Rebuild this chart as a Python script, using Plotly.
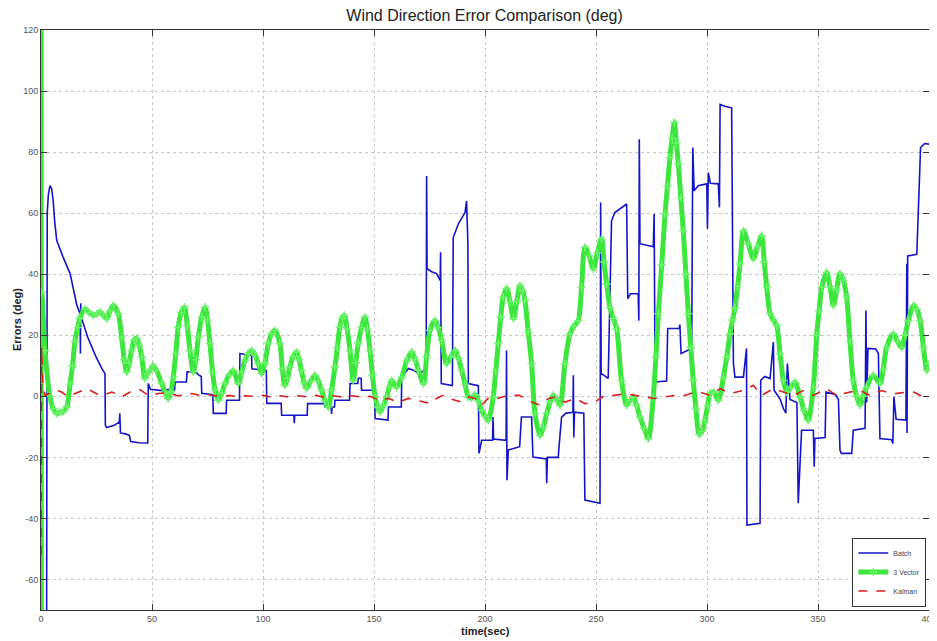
import plotly.graph_objects as go

# ---------------- data ----------------
x_ticks = [0, 50, 100, 150, 200, 250, 300, 350, 400]
y_ticks = [-60, -40, -20, 0, 20, 40, 60, 80, 100, 120]

# Batch estimate error: (time sec, error deg)
batch = [
    (2.5, -90), (2.8, 60), (3.3, 66), (4.05, 69), (4.8, 68), (5.5, 64), (6.2, 57), (7.1, 51),
    (10, 45.5), (13.1, 40.2), (16.1, 30), (17.6, 27), (17.75, 14), (17.9, 30.5), (18.1, 26),
    (21, 19.4), (24.8, 12.9), (27.5, 9), (28.8, 7.5), (29, -9.5), (29.6, -10.2), (33, -9.5),
    (35.3, -8.4), (35.5, -5.6), (35.8, -12), (38, -12.3), (39.8, -12.8), (40.4, -14.8),
    (44, -15.2), (48.1, -15.3), (48.3, 4.2), (49.3, 2.3), (53, 2), (55.5, 1.8), (56, 2.2),
    (60.2, 2.2), (60.4, 4.7), (65.5, 4.7), (65.8, 8), (69.5, 8), (71, 7), (72.2, 6.5),
    (72.4, 1), (77.4, 0.5), (77.6, -5.6), (83.4, -5.6), (83.6, -1.3), (89.4, -1.3),
    (89.6, 14), (94.5, 13.5), (94.8, 15.5), (95.0, 9), (101.5, 8.5), (101.7, -2.3),
    (108.2, -2.3), (108.4, -6.2), (113.9, -6.2), (114.1, -8.8), (114.3, -6.2), (119.9, -6.2),
    (120.1, -2.4), (127.7, -2.4), (127.9, -3.5), (130.7, -3.5), (130.9, -5.8), (131.1, -3.5),
    (132.2, -3.5), (132.4, -1.3), (139, -1.3), (139.2, 4.2), (142.7, 4.2), (142.9, 5.9),
    (144.2, 5.9), (144.4, 2), (150.3, 2), (150.5, -7.3), (156.3, -7.8), (156.5, -3.5),
    (162.3, -3.5), (162.5, 6.3), (165.5, 9.1), (168, 8.5), (170, 7.5), (173, 8.5),
    (173.5, 6.5), (173.7, 72.2), (173.9, 41.8), (176, 40.8), (178.2, 40.2), (179.8, 38),
    (180.0, 47.2), (180.3, 4.2), (185.3, 3.5), (185.7, 52), (188, 56.5), (191, 60.2),
    (191.7, 64), (192.3, 50), (192.5, 4.2), (197, 3.5), (197.3, -18.7), (198.5, -14.4),
    (203.4, -14.4), (203.6, -6.8), (203.9, -14), (209.5, -14.4), (209.7, 15), (209.9, -27.5),
    (210.5, -17.6), (215.6, -16.5), (216.4, -6.8), (221, -6.8), (221.6, -19.9), (227.6, -20.5),
    (227.8, -28.5), (228.1, -20), (233, -20), (233.4, -16), (234.5, -6.8), (236.5, -5.5),
    (239.6, -5.2), (239.8, 6.9), (240.0, -13.5), (240.3, -5.2), (244.5, -5.5), (245, -34),
    (251.8, -35), (252.1, 63.5), (252.3, 7.5), (255.5, 5.9), (257, 57.5), (258.5, 60.2),
    (263.8, 63), (264.3, 32), (265.5, 33.6), (269, 33.6), (269.3, 24.8), (269.5, 84.2),
    (269.8, 50), (275.8, 49), (276.2, 59.7), (276.6, 4.7), (281.8, 5), (282.3, 22.2),
    (287.5, 22.2), (287.8, 23.5), (288.3, 14), (293.1, 15.7), (293.6, 81.5), (294.2, 67.3),
    (296, 69), (299.9, 69.6), (300.2, 54.9), (300.6, 73.3), (301.5, 69.8), (305.1, 69.6),
    (305.6, 61.9), (305.9, 95.6), (308, 95), (311.1, 94.5), (311.9, 10.7), (312.6, 6.3),
    (316.4, 6.3), (317.8, 15.7), (318.0, -42.2), (323.9, -41.6), (324.2, 5.2), (326, 6.5),
    (328.4, 5.8), (329.9, 17.8), (330.2, 2), (333, -1), (334.4, -4), (335.5, -5.5),
    (336.2, 10.7), (337.4, -1), (340.5, -2), (341.1, -35), (342.6, -11.1), (347.9, -11.1),
    (348.3, -23.1), (348.6, -13.8), (353.2, -13.5), (353.6, 1.4), (358, 0.5), (359.2, -1),
    (359.9, -17.6), (360.5, -18.7), (365.2, -18.7), (365.9, -11.1), (371.2, -10.5),
    (371.6, 28.1), (371.9, -2), (372.5, 15.7), (376, 15.5), (377.2, 14), (377.9, -13.8),
    (383.2, -14.2), (383.7, -15.5), (384.2, -0.2), (385.2, -7.5), (389.6, -7.8), (390, 43.4),
    (390.1, -12), (390.4, 46), (394.5, 46.5), (395.8, 70), (396.2, 81.5), (398, 82.8),
    (400, 82.6),
]

# 3 Vector estimate error: (time sec, error deg)
vector3 = [
    (0, 150), (0.15, -90), (0.3, 34), (1.8, 15), (4.0, 0), (5.5, -4), (7.1, -5.6), (8.5, -5.2),
    (10, -5), (11.6, -3.5), (13.1, 4), (14.2, 10), (15.3, 18), (16.5, 22.5), (17.5, 25.5),
    (19.8, 28.6), (21.6, 27.5), (23.6, 26.5), (25.1, 27), (26.6, 27.6), (28.1, 26.5),
    (29.6, 25.5), (31.1, 28), (32.6, 29.8), (34.8, 27.1), (36.3, 19.4), (37.5, 12), (38.6, 8),
    (39.7, 11), (40.8, 15), (42, 18.5), (43.1, 19), (44.3, 16.5), (45.4, 12.9), (46.8, 5.9),
    (48, 7.5), (49.1, 8.5), (50.5, 10), (52, 8.5), (54.4, 4.2), (56, 1), (57.3, -0.7),
    (58.5, 1.5), (59.6, 6.3), (60.7, 14), (61.8, 22.6), (63.2, 27.5), (64.6, 29.2),
    (65.9, 23), (67.1, 15), (68.6, 8), (69.7, 12), (70.9, 19.4), (72.4, 26), (73.9, 29.2),
    (75, 25), (76.1, 17.3), (77.3, 8), (78.4, 2), (79.9, -1.3), (81.4, 1), (82.9, 4.2),
    (84.8, 7), (86.6, 8.5), (88.9, 4.2), (90.4, 8), (91.9, 11.8), (93.4, 14), (94.9, 15),
    (96.4, 13.5), (97.9, 10.7), (99.4, 7.5), (100.9, 11), (102.4, 17.3), (103.9, 20.5),
    (105.4, 21.6), (107.6, 17.3), (108.7, 9), (109.8, 3.6), (111, 6), (112.1, 9.6),
    (113.6, 13), (115.1, 14.5), (116.2, 12), (117.3, 8.5), (118.5, 4.5), (119.6, 2.6),
    (121.5, 5), (123.4, 6.9), (124.9, 5), (126.4, 2), (127.9, -1.5), (129.4, -3.5),
    (130.9, 2), (132.4, 9.6), (133.5, 16), (134.6, 22.6), (135.6, 25.5), (136.6, 26.5),
    (137.9, 22), (139.2, 15), (140.6, 5.2), (141.8, 11), (142.9, 17.3), (144.4, 22.5),
    (145.9, 25.9), (147, 22), (148.2, 15), (149.3, 7), (150.5, -0.2), (151.6, -3.5),
    (152.7, -5.1), (154.2, -3), (155.7, -0.2), (156.9, 3), (158, 5.2), (160.2, 3),
    (162.5, 6.3), (164.8, 11.8), (167, 14.5), (168.5, 12), (170, 8.5), (172.3, 4.2),
    (173.7, 12.9), (175.2, 21.6), (177.5, 24.8), (179, 22.5), (180.5, 18.3), (182.7, 10.7),
    (184.6, 13), (186.5, 15), (188, 12.5), (189.5, 8.5), (191, 4), (192.5, -0.2), (194, -0.5),
    (195.5, 0.5), (197, -1.5), (198.5, -4.6), (200, -6.5), (201.5, -7.8), (203.7, -0.2),
    (204.8, 8), (206, 17.3), (207.1, 26), (208.2, 32.5), (209.8, 35.3), (211.3, 31),
    (212.8, 25.5), (214.3, 31), (215.8, 36.3), (217, 34.5), (218, 31.4), (219.5, 21),
    (221, 10.7), (222.5, -5.6), (224.8, -12.8), (226.3, -10), (227.8, -5.6), (229.3, -2),
    (230.8, 0.3), (232.3, -1), (233.8, -2.9), (236, 10.7), (238.3, 20.5), (240, 23),
    (242, 24.8), (243.5, 35.7), (245, 48.8), (246.9, 46), (248.8, 41.8), (250.6, 47),
    (252.5, 51.6), (253.6, 44), (254.8, 36.8), (256.3, 29.1), (257.8, 25.5), (259.3, 22.2),
    (261.5, 5.2), (263.8, -2.9), (265.3, -1.5), (266.8, -0.3), (268.3, -3), (269.8, -6.8),
    (271.7, -10.5), (273.6, -13.8), (275.8, -0.2), (277, 13), (278.1, 27.1), (279.6, 43),
    (281.1, 59.7), (282.2, 69), (283.3, 78.2), (284.3, 84.5), (285.3, 89.7), (286.2, 83),
    (287.1, 76.1), (288.2, 65), (289.3, 54.2), (290.5, 40), (291.6, 27.1), (292.7, 16),
    (293.8, 5.2), (295, -4), (296.5, -12.5), (297.8, -11.5), (299.1, -7.8), (300.3, -3),
    (301.4, 0.9), (303, 1.4), (305.1, -1.3), (307.4, 6.3), (308.9, 13), (310.4, 20.5),
    (311.5, 25), (312.6, 29), (313.8, 36), (314.9, 43.4), (316.4, 54.2), (318.6, 50),
    (320.9, 45.1), (322.8, 49), (324.6, 52.6), (325.8, 44), (326.9, 35.7), (328.4, 27.1),
    (329.9, 25), (331.4, 23.2), (332.9, 14), (334.4, 5.2), (335.9, 1.4), (337.8, 3),
    (339.6, 4.6), (341.9, -0.2), (343.7, -4.5), (345.6, -7.8), (347.9, 3), (349.4, 20),
    (350.5, 28), (351.7, 35.7), (353.9, 40.6), (355.4, 36), (356.9, 29.8), (358.4, 35),
    (359.9, 40.2), (361.4, 38), (362.9, 32.5), (364.4, 18), (365.9, 5.2), (367.4, 0),
    (368.9, -2.9), (370.4, 0), (371.9, 3), (374.9, 6.9), (377.9, 4.2), (379.4, 9),
    (380.9, 16.1), (383.9, 20.5), (385.8, 18), (387.7, 16), (389.2, 20), (390.7, 24.8),
    (393, 29.8), (394.5, 28.5), (396, 24.8), (397.5, 16), (399, 8.5), (400, 10.7),
]

# Kalman filter estimate error: (time sec, error deg)
kalman = [
    (0, -52), (0.25, 16), (0.7, 4), (1.8, 0.3), (4.5, 1.2), (7.1, 2.0), (9.3, 1.4),
    (12.3, -0.2), (15.3, 0.9), (18, 1.8), (20.6, 2.5), (23.6, 1.4), (26.6, 0.2), (29, 0.6),
    (31.8, 1.4), (34, 0.8), (36.3, -0.2), (40.1, 1.4), (44.6, 2.2), (48.3, 0.3), (52.8, 0.9),
    (57.3, 1.2), (61.8, 0.1), (65, 0.7), (67.9, 0.9), (71.5, 0.3), (75.4, 0.5), (78.5, 0.2),
    (81.4, -0.2), (85, 0.3), (88, -0.1), (92, 0.2), (96, 0.0), (100, 0.3), (104, -0.3),
    (108, 0.2), (112, -0.3), (116, 0.2), (120, -0.2), (124, 0.3), (128, -0.4), (132, 0.2),
    (136, -0.3), (140, 0.2), (144, -0.2), (148.2, 0.0), (152.7, -1.3), (156.5, -0.7),
    (161, -1.9), (165.5, -0.7), (168.5, -1.2), (171.5, -1.9), (175.5, -2.4), (178.2, -0.7),
    (181, 0.3), (183.5, -0.6), (186.5, -1.3), (189.5, -1.9), (192.8, -0.2), (195.5, -0.7),
    (198.5, -2.9), (202, -0.2), (205.7, -0.7), (210, 0.3), (215.5, 0.3), (221, -1.9),
    (224.8, -2.9), (228.6, -0.7), (231.5, -0.2), (236, -1.9), (240.8, -0.7), (245, -2.4),
    (249.3, -1.9), (254, 0.3), (258.6, 0.3), (263, 0.9), (267.6, 0.3), (272, -0.2),
    (276.6, -0.7), (281, -0.2), (285.6, 0.3), (290, 0.3), (294.6, 1.4), (296.8, 1.4),
    (301.4, 0.3), (306, 2.5), (310.4, 0.9), (316.4, 1.9), (320.9, 3.6), (324.6, 0.3),
    (329.9, 2.5), (334.4, 1.4), (338.9, 0.3), (343.4, 1.9), (347.9, 0.3), (353.9, 2.5),
    (358.4, 0.3), (364.4, 1.4), (368.9, 1.9), (373.4, 0.3), (378.6, 1.9), (383.9, 0.8),
    (390, 1.4), (393, 1.4), (397.5, -0.2), (400, 0.0),
]

batch_t = [p[0] for p in batch]
batch_err = [p[1] for p in batch]
vector3_t = [p[0] for p in vector3]
vector3_err = [p[1] for p in vector3]
kalman_t = [p[0] for p in kalman]
kalman_err = [p[1] for p in kalman]

FONT = "Liberation Sans, Arial, sans-serif"

# ---------------- figure ----------------
fig = go.Figure()

fig.add_trace(go.Scatter(
    x=batch_t, y=batch_err, name="Batch", mode="lines",
    line=dict(color="rgb(20,20,200)", width=1.6),
))
fig.add_trace(go.Scatter(
    x=vector3_t, y=vector3_err, name="3 Vector", mode="lines+markers",
    line=dict(color="rgb(60,230,60)", width=5, shape="spline", smoothing=0.8),
    marker=dict(symbol="cross-thin", size=6,
                line=dict(color="rgb(110,245,110)", width=1.4)),
))
fig.add_trace(go.Scatter(
    x=kalman_t, y=kalman_err, name="Kalman", mode="lines",
    line=dict(color="rgb(215,30,30)", width=1.6, dash="dash"),
))

axis_common = dict(
    showline=True, linecolor="#333333", linewidth=1, mirror="ticks",
    ticks="inside", ticklen=6, tickcolor="#333333",
    showgrid=True, gridcolor="#c8c8c8", gridwidth=1, griddash="dot",
    zeroline=False, automargin=False,
    tickfont=dict(family=FONT, size=9, color="#555555"),
)

fig.update_xaxes(range=[0, 400], tickvals=x_ticks, ticktext=[str(v) for v in x_ticks],
                 **axis_common)
fig.update_yaxes(range=[-70, 120], tickvals=y_ticks, ticktext=[str(v) for v in y_ticks],
                 **axis_common)

# page body has an 8px default margin (left/top), so the figure is 8px smaller than the window
fig.update_layout(
    width=929, height=633,
    margin=dict(l=33, r=8, t=22, b=31, autoexpand=False),
    paper_bgcolor="white", plot_bgcolor="white",
    title=dict(text="Wind Direction Error Comparison (deg)", x=0.513, xanchor="center",
               y=0.988, yanchor="middle",
               font=dict(family=FONT, size=16, color="#222222")),
    showlegend=True,
    legend=dict(x=0.997, xanchor="right", y=0.006, yanchor="bottom",
                bgcolor="white", bordercolor="#333333", borderwidth=1,
                font=dict(family=FONT, size=7, color="#444444"),
                tracegroupgap=0, itemwidth=30),
    annotations=[
        dict(text="<b>time(sec)</b>", x=0.5, xref="paper", y=-0.023, yref="paper",
             yanchor="top", showarrow=False,
             font=dict(family=FONT, size=11, color="#222222")),
        dict(text="<b>Errors (deg)</b>", x=-0.027, xref="paper", y=0.5, yref="paper",
             xanchor="center", textangle=-90, showarrow=False,
             font=dict(family=FONT, size=11, color="#222222")),
    ],
)

fig.write_html("out.html")
